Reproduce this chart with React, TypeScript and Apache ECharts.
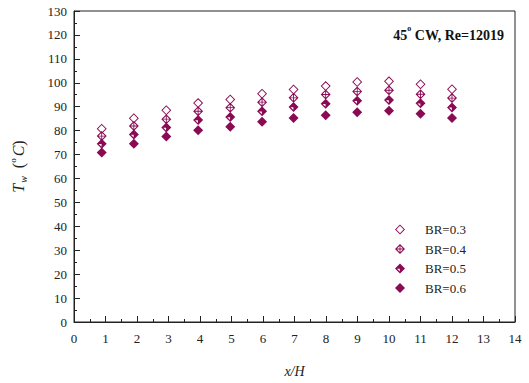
import React, { useEffect, useRef } from "react";
import * as echarts from "echarts";

const xPos = [0.88, 1.9, 2.93, 3.94, 4.96, 5.97, 6.97, 7.99, 8.99, 10.0, 11.0, 12.0];
const br03 = [80.8, 85.2, 88.5, 91.5, 93.0, 95.4, 97.2, 98.6, 100.3, 100.6, 99.4, 97.3];
const br04 = [77.7, 81.9, 84.8, 88.1, 89.6, 91.9, 93.7, 95.1, 96.4, 96.9, 95.2, 93.6];
const br05 = [74.5, 78.4, 81.3, 84.4, 85.7, 88.1, 89.9, 91.2, 92.5, 92.8, 91.4, 89.7];
const br06 = [70.8, 74.5, 77.5, 80.2, 81.6, 83.7, 85.3, 86.4, 87.7, 88.3, 87.0, 85.3];
const seriesNames = ["BR=0.3", "BR=0.4", "BR=0.5", "BR=0.6"];

const COLOR = "#8a0a54";
const FONT = "'Liberation Serif', 'Times New Roman', serif";

const openDiamond = "path://M10 0L20 10L10 20L0 10Z M10 2.6L2.6 10L10 17.4L17.4 10Z";
const crossDiamond =
  "path://M10 0L20 10L10 20L0 10Z M10 3L3 10L10 17L17 10Z M9.1 1L10.9 1L10.9 19L9.1 19Z M1 9.1L19 9.1L19 10.9L1 10.9Z";
const halfDiamond =
  "path://M10 0L20 10L10 20L0 10Z M10.4 9.6L10.4 4L15.9 9.6Z M9.6 10.4L4.1 10.4L9.6 16Z";
const fullDiamond = "path://M10 0L20 10L10 20L0 10Z";

function pts(ys: number[]) {
  return xPos.map((x, i) => [x, ys[i]]);
}

export default function App() {
  const ref = useRef<HTMLDivElement>(null);
  useEffect(() => {
    if (!ref.current) return;
    const chart = echarts.init(ref.current, null, { renderer: "svg" });
    const mk = (i: number, data: number[], sym: string) => ({
      name: seriesNames[i],
      type: "scatter",
      data: pts(data),
      symbol: sym,
      symbolSize: [10, 10],
      itemStyle: { color: COLOR, opacity: 1 },
    });
    chart.setOption({
      animation: false,
      backgroundColor: "#ffffff",
      grid: {
        left: 72,
        right: 14,
        top: 11,
        bottom: 56,
        show: true,
        borderColor: "#222",
        borderWidth: 1,
      },
      legend: {
        orient: "vertical",
        left: 390,
        top: 218,
        itemWidth: 10,
        itemHeight: 10,
        itemGap: 6.5,
        data: seriesNames,
        textStyle: { fontFamily: FONT, fontSize: 13, color: "#222", padding: [0, 0, 0, 15] },
      },
      graphic: [
        {
          type: "text",
          right: 25,
          top: 24,
          style: {
            text: "{b|45}{s|o}{b| CW, Re=12019}",
            rich: {
              b: { fontFamily: FONT, fontWeight: "bold", fontSize: 14, fill: "#111", lineHeight: 18, verticalAlign: "bottom" },
              s: { fontFamily: FONT, fontWeight: "bold", fontSize: 8, fill: "#111", lineHeight: 18, verticalAlign: "top" },
            },
          },
        },
      ],
      xAxis: {
        type: "value",
        min: 0,
        max: 14,
        interval: 1,
        name: "x/H",
        nameLocation: "middle",
        nameGap: 42,
        nameTextStyle: { fontFamily: FONT, fontStyle: "italic", fontSize: 14, color: "#222" },
        axisLine: { show: true, lineStyle: { color: "#222", width: 1 } },
        axisTick: { show: true, inside: true, length: 6, lineStyle: { color: "#222" } },
        minorTick: { show: true, splitNumber: 2, length: 3, lineStyle: { color: "#222" } },
        axisLabel: { fontFamily: FONT, fontSize: 13, color: "#222", margin: 10 },
        splitLine: { show: false },
      },
      yAxis: {
        type: "value",
        min: 0,
        max: 130,
        interval: 10,
        name: "{i|T}{sub|w}{n| (}{sup|o}{i|C}{n|)}",
        nameLocation: "middle",
        nameGap: 46,
        nameRotate: 90,
        nameTextStyle: {
          rich: {
            i: { fontFamily: FONT, fontStyle: "italic", fontSize: 16, color: "#222", lineHeight: 20, verticalAlign: "middle" },
            n: { fontFamily: FONT, fontSize: 16, color: "#222", lineHeight: 20, verticalAlign: "middle" },
            sub: { fontFamily: FONT, fontStyle: "italic", fontSize: 10, color: "#222", lineHeight: 20, verticalAlign: "bottom", padding: [0, 4, 0, 1] },
            sup: { fontFamily: FONT, fontSize: 9, color: "#222", lineHeight: 20, verticalAlign: "top", padding: [0, 2, 0, 0] },
          },
        },
        axisLine: { show: true, lineStyle: { color: "#222", width: 1 } },
        axisTick: { show: true, inside: true, length: 6, lineStyle: { color: "#222" } },
        minorTick: { show: true, splitNumber: 2, length: 3, lineStyle: { color: "#222" } },
        axisLabel: { fontFamily: FONT, fontSize: 13, color: "#222", margin: 7 },
        splitLine: { show: false },
      },
      series: [
        mk(0, br03, openDiamond),
        mk(1, br04, crossDiamond),
        mk(2, br05, halfDiamond),
        mk(3, br06, fullDiamond),
      ],
    });
    return () => chart.dispose();
  }, []);
  return (
    <div
      ref={ref}
      style={{ position: "fixed", left: 0, top: 0, width: 529, height: 383, background: "#fff" }}
    />
  );
}
